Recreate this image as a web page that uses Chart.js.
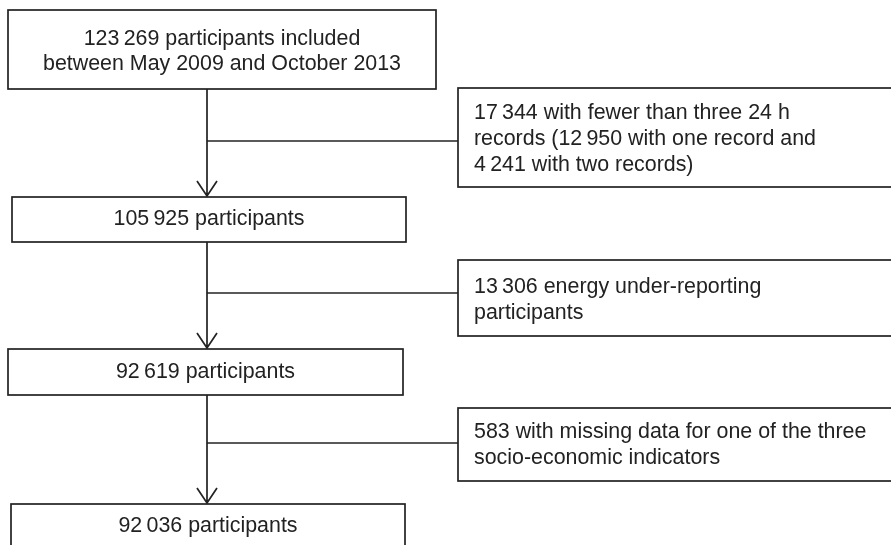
<!DOCTYPE html>
<html>
<head>
<meta charset="utf-8">
<script src="https://cdn.jsdelivr.net/npm/chart.js@4/dist/chart.umd.min.js"></script>
<style>
  html, body { margin: 0; padding: 0; background: #fff; }
  canvas { display: block; }
</style>
</head>
<body>
<canvas id="flowChart" width="891" height="545"></canvas>
<script>
// participant counts at each step of the flow
const stepCounts = [123269, 105925, 92619, 92036];
const stepLabels = [
  ["{0} participants included", "between May 2009 and October 2013"],
  ["{0} participants"],
  ["{0} participants"],
  ["{0} participants"],
];

// excluded at each step (extra numbers are the sub-counts inside the text)
const excludedCounts = [17344, 13306, 583];
const excludedSubCounts = [[12950, 4241], [], []];
const excludedLabels = [
  ["{0} with fewer than three 24 h", "records ({1} with one record and", "{2} with two records)"],
  ["{0} energy under-reporting", "participants"],
  ["{0} with missing data for one of the three", "socio-economic indicators"],
];

// layout in canvas units (x 0..891, y 0..545 from top)
const mainBoxes = [
  { x0: 8, x1: 436, y0: 10, y1: 89 },
  { x0: 12, x1: 406, y0: 197, y1: 242 },
  { x0: 8, x1: 403, y0: 349, y1: 395 },
  { x0: 11, x1: 405, y0: 504, y1: 570 },
];
const mainBaselines = [[45, 70], [225], [378], [532]];
const sideBoxes = [
  { x0: 458, x1: 900, y0: 88, y1: 187, branchY: 141 },
  { x0: 458, x1: 900, y0: 260, y1: 336, branchY: 293 },
  { x0: 458, x1: 900, y0: 408, y1: 481, branchY: 443 },
];
const sideTextX = 474;
const sideBaselines = [[119, 145, 171], [293, 319], [438, 464]];
const trunkX = 207;

const FONT = "21.4px 'Liberation Sans', Arial, sans-serif";
const INK = "#222222";

function fmt(n) {
  return n.toLocaleString("en-US").replace(/,/g, "\u2009");
}

function fill(tpl, nums) {
  return tpl.replace(/\{(\d)\}/g, (m, i) => fmt(nums[+i]));
}

const flowPlugin = {
  id: "flow",
  afterDraw(chart) {
    const ctx = chart.ctx;
    const sx = chart.scales.x;
    const sy = chart.scales.y;
    const px = (v) => sx.getPixelForValue(v);
    const py = (v) => sy.getPixelForValue(v);

    ctx.save();
    ctx.strokeStyle = INK;
    ctx.fillStyle = INK;
    ctx.lineWidth = 1.7;
    ctx.font = FONT;
    ctx.textBaseline = "alphabetic";

    // main boxes
    mainBoxes.forEach((b, i) => {
      ctx.strokeRect(px(b.x0), py(b.y0), px(b.x1) - px(b.x0), py(b.y1) - py(b.y0));
      ctx.textAlign = "center";
      const cx = (px(b.x0) + px(b.x1)) / 2;
      stepLabels[i].forEach((line, j) => {
        ctx.fillText(fill(line, [stepCounts[i]]), cx, py(mainBaselines[i][j]));
      });
    });

    // side (excluded) boxes
    sideBoxes.forEach((b, i) => {
      ctx.strokeRect(px(b.x0), py(b.y0), px(b.x1) - px(b.x0), py(b.y1) - py(b.y0));
      ctx.textAlign = "left";
      const nums = [excludedCounts[i]].concat(excludedSubCounts[i]);
      excludedLabels[i].forEach((line, j) => {
        ctx.fillText(fill(line, nums), px(sideTextX), py(sideBaselines[i][j]));
      });
      // branch line from trunk
      ctx.beginPath();
      ctx.moveTo(px(trunkX), py(b.branchY));
      ctx.lineTo(px(b.x0), py(b.branchY));
      ctx.stroke();
    });

    // trunk arrows between main boxes
    for (let i = 0; i < mainBoxes.length - 1; i++) {
      const top = py(mainBoxes[i].y1);
      const tip = py(mainBoxes[i + 1].y0) - 1;
      const x = px(trunkX);
      ctx.beginPath();
      ctx.moveTo(x, top);
      ctx.lineTo(x, tip);
      ctx.moveTo(x - 10, tip - 15);
      ctx.lineTo(x, tip);
      ctx.lineTo(x + 10, tip - 15);
      ctx.stroke();
    }
    ctx.restore();
  },
};

new Chart(document.getElementById("flowChart"), {
  type: "scatter",
  data: { datasets: [] },
  options: {
    responsive: false,
    animation: false,
    layout: { padding: 0 },
    plugins: { legend: { display: false }, tooltip: { enabled: false } },
    scales: {
      x: { type: "linear", min: 0, max: 891, display: false },
      y: { type: "linear", min: 0, max: 545, reverse: true, display: false },
    },
  },
  plugins: [flowPlugin],
});
</script>
</body>
</html>
